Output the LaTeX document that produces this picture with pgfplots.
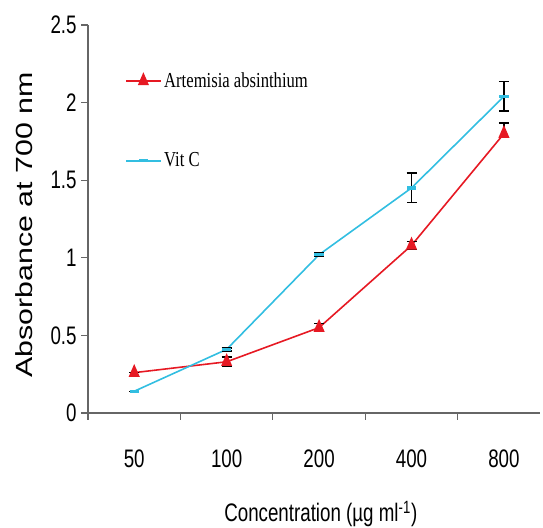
\documentclass[border=0pt]{standalone}
\usepackage{fontspec}
\setmainfont{Liberation Sans}
\newfontfamily\tickfont{Liberation Sans}[FakeStretch=0.74]
\newfontfamily\ylabfont{Liberation Sans}[FakeStretch=1.3]
\newfontfamily\legfont{Liberation Serif}[FakeStretch=0.78]
\usepackage{xcolor}
\usepackage{pgfplots}
\pgfplotsset{compat=1.18}
\definecolor{artred}{RGB}{230,25,35}
\definecolor{vitcyan}{RGB}{50,190,225}
\begin{document}
\begin{tikzpicture}
\useasboundingbox (-66pt,-86.25pt) rectangle (341.25pt,309.75pt);
\begin{axis}[
  scale only axis, width=339pt, height=291pt,
  xmin=-0.5, xmax=4.39, ymin=0, ymax=2.5,
  axis x line*=bottom, axis y line*=left,
  axis line style={black!60, line width=0.8pt},
  tick align=outside, major tick length=5pt,
  every tick/.style={black!60, line width=0.8pt},
  ytick={0,0.5,1,1.5,2,2.5},
  xtick={-0.5,0.5,1.5,2.5,3.5}, xticklabels={},
  extra x ticks={0,1,2,3,4},
  extra x tick labels={50,100,200,400,800},
  extra x tick style={major tick length=0pt, xticklabel style={yshift=-24pt}},
  /pgf/number format/assume math mode=true,
  tick label style={font=\tickfont\fontsize{19}{22}\selectfont},
  xlabel={Concentration (µg ml\textsuperscript{-1})},
  xlabel style={font=\tickfont\fontsize{19}{22}\selectfont, at={(axis description cs:0.515,-0.26)}, anchor=center},
  ylabel={Absorbance at 700 nm},
  ylabel style={font=\ylabfont\fontsize{17.5}{20}\selectfont, at={(axis description cs:-0.142,0.485)}, anchor=center},
  legend style={draw=none, fill=none, at={(axis description cs:0.073,0.892)}, anchor=north west,
    font=\legfont\fontsize{16}{18}\selectfont, row sep=43.5pt},
  legend cell align=left,
  legend image code/.code={\draw[mark repeat=2,mark phase=2,#1] plot coordinates {(0pt,0pt) (13pt,0pt) (26pt,0pt)};},
  error bars/error bar style={black, line width=1.1pt},
  error bars/error mark options={black, line width=1.1pt, mark size=3.75pt, rotate=90},
  clip=false,
]
\addplot[artred, line width=1.2pt, mark=triangle*, mark size=5pt, mark options={xscale=0.75},
  error bars/.cd, y dir=both, y explicit]
  coordinates {(0,0.26) += (0,0) -= (0,0) (1,0.33) += (0,0.03) -= (0,0.03) (2,0.55) += (0,0.025) -= (0,0.025)
    (3,1.08) += (0,0.025) -= (0,0.025) (4,1.80) += (0,0.07) -= (0,0.02)};
\addlegendentry{Artemisia absinthium}
\addplot[vitcyan, line width=1.2pt, mark=-, mark size=3.5pt, mark options={line width=2.5pt},
  error bars/.cd, y dir=both, y explicit]
  coordinates {(0,0.14) +- (0,0) (1,0.41) +- (0,0.01) (2,1.02) +- (0,0.01) (3,1.45) +- (0,0.095) (4,2.04) +- (0,0.095)};
\addlegendentry{Vit C}
\end{axis}
\end{tikzpicture}
\end{document}
